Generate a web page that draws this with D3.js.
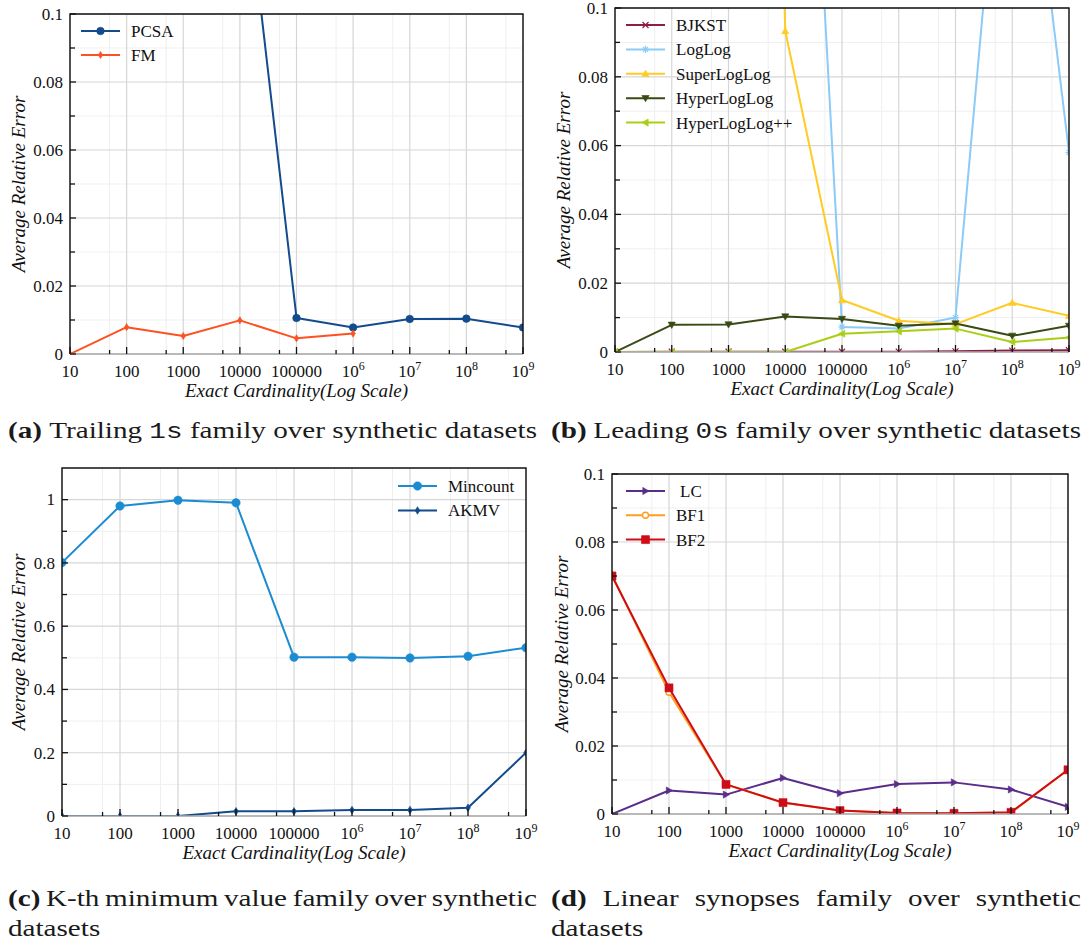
<!DOCTYPE html>
<html>
<head>
<meta charset="utf-8">
<script src="https://cdn.jsdelivr.net/npm/d3@7"></script>
<style>
  html, body { margin: 0; padding: 0; background: #ffffff; }
  svg { display: block; }
</style>
</head>
<body>
<svg id="fig" width="1083" height="943"></svg>
<script>
// ---------------- data ----------------
const cardinality = [1e1, 1e2, 1e3, 1e4, 1e5, 1e6, 1e7, 1e8, 1e9];
const xTickLabels = ["10", "100", "1000", "10000", "100000", "10^6", "10^7", "10^8", "10^9"];

const yTicksSmall = [0, 0.02, 0.04, 0.06, 0.08, 0.1];
const yTickLabelsSmall = ["0", "0.02", "0.04", "0.06", "0.08", "0.1"];
const yTicksLarge = [0, 0.2, 0.4, 0.6, 0.8, 1];
const yTickLabelsLarge = ["0", "0.2", "0.4", "0.6", "0.8", "1"];

// (a) trailing 1s family
const pcsa = [1.0, 0.82, 0.55, 0.155, 0.0106, 0.0078, 0.0103, 0.0104, 0.0078];
const fm   = [0, 0.0079, 0.0053, 0.0099, 0.0046, 0.0060];

// (b) leading 0s family
const bjkst       = [0, 0.0001, 0.0001, 0.0001, 0.0001, 0.0001, 0.0002, 0.0004, 0.0005];
const loglog      = [0.95, 0.8, 0.6, 0.31, 0.0073, 0.0068, 0.0100, 0.195, 0.058];
const superloglog = [0.9, 0.8, 0.7, 0.0933, 0.0151, 0.0091, 0.0081, 0.0143, 0.0105];
const hyperloglog = [0, 0.0079, 0.0080, 0.0103, 0.0096, 0.0076, 0.0083, 0.0047, 0.0076];
const hllpp       = [0, 0, 0, 0, 0.0053, 0.0060, 0.0068, 0.0029, 0.0042];

// (c) k-th minimum value family
const mincount = [0.801, 0.980, 0.998, 0.990, 0.502, 0.502, 0.4995, 0.505, 0.532];
const akmv     = [0, 0, 0, 0.0148, 0.0148, 0.019, 0.019, 0.026, 0.200];

// (d) linear synopses family
const lc  = [0, 0.0069, 0.0057, 0.0106, 0.0061, 0.0088, 0.0093, 0.0072, 0.0021];
const bf1 = [0.0703, 0.0358, 0.0087, 0.0033, 0.0010, 0.0003, 0.0002, 0.0004, 0.0130];
const bf2 = [0.0700, 0.0371, 0.0087, 0.00335, 0.0010, 0.0003, 0.0002, 0.0005, 0.0130];

// captions: first word bold, `...` monospace
const captionA = ["(a) Trailing `1s` family over synthetic datasets"];
const captionB = ["(b) Leading `0s` family over synthetic datasets"];
const captionC = ["(c) K-th minimum value family over synthetic", "datasets"];
const captionD = ["(d) Linear synopses family over synthetic", "datasets"];

// ---------------- drawing ----------------
const SERIF = '"Liberation Serif","Times New Roman",serif';
const MONO = '"Liberation Mono","DejaVu Sans Mono",monospace';
const svg = d3.select("#fig");
const defs = svg.append("defs");

// marker shapes (centered at 0,0)
const markers = {
  circle: r => d3.symbol(d3.symbolCircle, Math.PI * r * r)(),
  diamond: s => `M0,${-s}L${s * 0.62},0L0,${s}L${-s * 0.62},0Z`,
  tri: s => `M0,${-s}L${s},${s * 0.75}L${-s},${s * 0.75}Z`,
  square: s => `M${-s},${-s}h${2 * s}v${2 * s}h${-2 * s}Z`,
  x: s => `M${-s},${-s}L${s},${s}M${-s},${s}L${s},${-s}`,
  asterisk: s => {
    let d = "";
    for (let k = 0; k < 4; k++) {
      const a = k * Math.PI / 4;
      d += `M${-s * Math.cos(a)},${-s * Math.sin(a)}L${s * Math.cos(a)},${s * Math.sin(a)}`;
    }
    return d;
  }
};

function addMarker(sel, m, color) {
  const p = sel.append("path").attr("d", markers[m.shape](m.size));
  if (m.rotate) p.attr("transform", `rotate(${m.rotate})`);
  if (m.shape === "x" || m.shape === "asterisk") {
    p.attr("fill", "none").attr("stroke", color).attr("stroke-width", 1.2);
  } else if (m.open) {
    p.attr("fill", "#ffffff").attr("stroke", color).attr("stroke-width", 1.4);
  } else {
    p.attr("fill", color).attr("stroke", color).attr("stroke-width", 0.6);
  }
  return p;
}

function writeTick(sel, s) {
  const m = s.match(/^(\d+)\^(\d+)$/);
  if (m) {
    sel.append("tspan").text(m[1]);
    sel.append("tspan").attr("dy", -7).attr("font-size", 12).text(m[2]);
  } else {
    sel.text(s);
  }
}

function drawPanel(cfg) {
  const g = svg.append("g");
  const x = d3.scaleLog().domain([10, 1e9]).range([cfg.left, cfg.right]);
  const y = d3.scaleLinear().domain([0, cfg.yMax]).range([cfg.bottom, cfg.top]);
  const step = cfg.yTicks[1] - cfg.yTicks[0];
  const minorY = cfg.yTicks.slice(0, -1).map(v => v + step / 2);
  const minorX = cardinality.slice(0, -1).map(v => v * 5);

  // grid
  const grid = g.append("g");
  grid.selectAll(".gmx").data(minorX).join("line")
    .attr("x1", d => x(d)).attr("x2", d => x(d))
    .attr("y1", cfg.top).attr("y2", cfg.bottom)
    .attr("stroke", "#efefef").attr("stroke-width", 1);
  grid.selectAll(".gmy").data(minorY).join("line")
    .attr("x1", cfg.left).attr("x2", cfg.right)
    .attr("y1", d => y(d)).attr("y2", d => y(d))
    .attr("stroke", "#efefef").attr("stroke-width", 1);
  grid.selectAll(".gx").data(cardinality).join("line")
    .attr("x1", d => x(d)).attr("x2", d => x(d))
    .attr("y1", cfg.top).attr("y2", cfg.bottom)
    .attr("stroke", "#d6d6d6").attr("stroke-width", 1.2);
  grid.selectAll(".gy").data(cfg.yTicks).join("line")
    .attr("x1", cfg.left).attr("x2", cfg.right)
    .attr("y1", d => y(d)).attr("y2", d => y(d))
    .attr("stroke", "#d6d6d6").attr("stroke-width", 1.2);

  // clipped data layer
  const clipId = "clip-" + cfg.id;
  defs.append("clipPath").attr("id", clipId).append("rect")
    .attr("x", cfg.left).attr("y", cfg.top)
    .attr("width", cfg.right - cfg.left).attr("height", cfg.bottom - cfg.top);
  const data = g.append("g").attr("clip-path", `url(#${clipId})`);
  const line = d3.line().x(d => x(d[0])).y(d => y(d[1]));
  cfg.series.forEach(s => {
    const pts = s.values.map((v, i) => [cardinality[i], v]);
    data.append("path").datum(pts).attr("d", line)
      .attr("fill", "none").attr("stroke", s.color).attr("stroke-width", 2)
      .attr("stroke-linejoin", "round");
    pts.forEach(p => {
      const mg = data.append("g").attr("transform", `translate(${x(p[0])},${y(p[1])})`);
      addMarker(mg, s.marker, s.color);
    });
  });

  // frame
  g.append("line").attr("x1", cfg.left).attr("x2", cfg.right)
    .attr("y1", cfg.bottom).attr("y2", cfg.bottom)
    .attr("stroke", "#a8a8a8").attr("stroke-width", 1.5);
  g.append("path")
    .attr("d", `M${cfg.left},${cfg.bottom}V${cfg.top}H${cfg.right}V${cfg.bottom}`)
    .attr("fill", "none").attr("stroke", "#111").attr("stroke-width", 1.4);

  // ticks (inward)
  const tk = g.append("g").attr("stroke", "#111").attr("stroke-width", 1.3);
  cfg.yTicks.forEach(v => tk.append("line").attr("x1", cfg.left).attr("x2", cfg.left + 6)
    .attr("y1", y(v)).attr("y2", y(v)));
  minorY.forEach(v => tk.append("line").attr("x1", cfg.left).attr("x2", cfg.left + 5)
    .attr("y1", y(v)).attr("y2", y(v)));
  cardinality.forEach(v => tk.append("line").attr("x1", x(v)).attr("x2", x(v))
    .attr("y1", cfg.bottom).attr("y2", cfg.bottom - 7));
  minorX.forEach(v => tk.append("line").attr("x1", x(v)).attr("x2", x(v))
    .attr("y1", cfg.bottom).attr("y2", cfg.bottom - 4));

  // tick labels
  const lab = g.append("g").attr("font-family", SERIF).attr("font-size", 17).attr("fill", "#111");
  cfg.yTicks.forEach((v, i) => lab.append("text")
    .attr("x", cfg.left - 7).attr("y", y(v)).attr("dy", "0.34em")
    .attr("text-anchor", "end").text(cfg.yLabels[i]));
  cardinality.forEach((v, i) => {
    const t = lab.append("text").attr("x", x(v)).attr("y", cfg.bottom + 23)
      .attr("text-anchor", "middle");
    writeTick(t, xTickLabels[i]);
  });

  // axis titles
  g.append("text").attr("x", (cfg.left + cfg.right) / 2).attr("y", cfg.bottom + 43)
    .attr("text-anchor", "middle").attr("font-family", SERIF).attr("font-style", "italic")
    .attr("font-size", 19).attr("fill", "#111").text("Exact Cardinality(Log Scale)");
  g.append("text")
    .attr("transform", `translate(${cfg.yTitleX},${(cfg.top + cfg.bottom) / 2}) rotate(-90)`)
    .attr("text-anchor", "middle").attr("font-family", SERIF).attr("font-style", "italic")
    .attr("font-size", 19).attr("fill", "#111").text("Average Relative Error");

  // legend
  const lg = g.append("g");
  cfg.series.forEach((s, i) => {
    const ly = cfg.legend.y + i * cfg.legend.dy;
    lg.append("line").attr("x1", cfg.legend.x).attr("x2", cfg.legend.x + 39)
      .attr("y1", ly).attr("y2", ly).attr("stroke", s.color).attr("stroke-width", 2);
    addMarker(lg.append("g").attr("transform", `translate(${cfg.legend.x + 19.5},${ly})`), s.marker, s.color);
    lg.append("text").attr("x", cfg.legend.x + 50 + (s.pad || 0)).attr("y", ly).attr("dy", "0.35em")
      .attr("font-family", SERIF).attr("font-size", 17).attr("fill", "#111").text(s.name);
  });
}

const C = {
  pcsa: "#134b8c", fm: "#fd5121",
  bjkst: "#8f1c42", loglog: "#8ccbf7", superloglog: "#ffcb24", hll: "#394a14", hllpp: "#a9cf14",
  mincount: "#1c8cd2", akmv: "#134b8c",
  lc: "#5a2d8a", bf1: "#ff9d1c", bf2: "#cf0d18"
};

drawPanel({
  id: "a", left: 70, right: 523, top: 14, bottom: 354, yMax: 0.1, yTitleX: 25,
  yTicks: yTicksSmall, yLabels: yTickLabelsSmall,
  legend: { x: 81, y: 31, dy: 24 },
  series: [
    { name: "PCSA", values: pcsa, color: C.pcsa, marker: { shape: "circle", size: 3.8 } },
    { name: "FM", values: fm, color: C.fm, marker: { shape: "diamond", size: 3.6 } }
  ]
});

drawPanel({
  id: "b", left: 615, right: 1069, top: 8, bottom: 352, yMax: 0.1, yTitleX: 570,
  yTicks: yTicksSmall, yLabels: yTickLabelsSmall,
  legend: { x: 626, y: 25, dy: 24.4 },
  series: [
    { name: "BJKST", values: bjkst, color: C.bjkst, marker: { shape: "x", size: 3 } },
    { name: "LogLog", values: loglog, color: C.loglog, marker: { shape: "asterisk", size: 3.6 } },
    { name: "SuperLogLog", values: superloglog, color: C.superloglog, marker: { shape: "tri", size: 3.6 } },
    { name: "HyperLogLog", values: hyperloglog, color: C.hll, marker: { shape: "tri", size: 3.6, rotate: 180 } },
    { name: "HyperLogLog++", values: hllpp, color: C.hllpp, marker: { shape: "tri", size: 3.6, rotate: -90 } }
  ]
});

drawPanel({
  id: "c", left: 62, right: 526, top: 468, bottom: 816, yMax: 1.1, yTitleX: 25,
  yTicks: yTicksLarge, yLabels: yTickLabelsLarge,
  legend: { x: 398, y: 486, dy: 24.5 },
  series: [
    { name: "Mincount", values: mincount, color: C.mincount, marker: { shape: "circle", size: 4.2 } },
    { name: "AKMV", values: akmv, color: C.akmv, marker: { shape: "diamond", size: 3.8 } }
  ]
});

drawPanel({
  id: "d", left: 612, right: 1068, top: 474, bottom: 814, yMax: 0.1, yTitleX: 568,
  yTicks: yTicksSmall, yLabels: yTickLabelsSmall,
  legend: { x: 626, y: 491, dy: 24.3 },
  series: [
    { name: "LC", values: lc, color: C.lc, marker: { shape: "tri", size: 3.6, rotate: 90 }, pad: 4 },
    { name: "BF1", values: bf1, color: C.bf1, marker: { shape: "circle", size: 3, open: true } },
    { name: "BF2", values: bf2, color: C.bf2, marker: { shape: "square", size: 4 } }
  ]
});

// ---------------- captions ----------------
const CAP_SIZE = 24;
const capLayer = svg.append("g").attr("fill", "#1a1a1a");

function wordNode(parent, w, first) {
  const t = parent.append("text").attr("font-size", CAP_SIZE).attr("font-family", SERIF);
  if (first) t.attr("font-weight", "bold");
  const mono = w.match(/^`(.*)`$/);
  if (mono) t.attr("font-family", MONO).attr("font-size", CAP_SIZE * 0.95).text(mono[1]);
  else t.text(w);
  return t;
}

// horizontal scale so the single-line caption (a) spans its column
const probe = svg.append("g");
const probeWords = captionA[0].split(" ").map((w, i) => wordNode(probe, w, i === 0));
const spaceProbe = probe.append("text").attr("font-family", SERIF).attr("font-size", CAP_SIZE).text("a a");
const aProbe = probe.append("text").attr("font-family", SERIF).attr("font-size", CAP_SIZE).text("aa");
const SPACE = spaceProbe.node().getComputedTextLength() - aProbe.node().getComputedTextLength();
const natA = d3.sum(probeWords, t => t.node().getComputedTextLength()) + SPACE * (probeWords.length - 1);
probe.remove();
const SX = 529 / natA;

function drawCaption(lines, x0, x1, baselines) {
  lines.forEach((ln, li) => {
    const words = ln.split(" ");
    const grp = capLayer.append("g");
    const nodes = words.map((w, i) => wordNode(grp, w, li === 0 && i === 0));
    const widths = nodes.map(t => t.node().getComputedTextLength() * SX);
    const justify = li < lines.length - 1 || lines.length === 1;
    const gap = justify && words.length > 1
      ? (x1 - x0 - d3.sum(widths)) / (words.length - 1)
      : SPACE * SX;
    let cx = x0;
    nodes.forEach((t, i) => {
      t.attr("transform", `translate(${cx},${baselines[li]}) scale(${SX},1)`);
      cx += widths[i] + gap;
    });
  });
}

drawCaption(captionA, 8, 537, [438]);
drawCaption(captionB, 551, 1081, [438]);
drawCaption(captionC, 8, 537, [906, 936]);
drawCaption(captionD, 551, 1081, [906, 936]);
</script>
</body>
</html>
